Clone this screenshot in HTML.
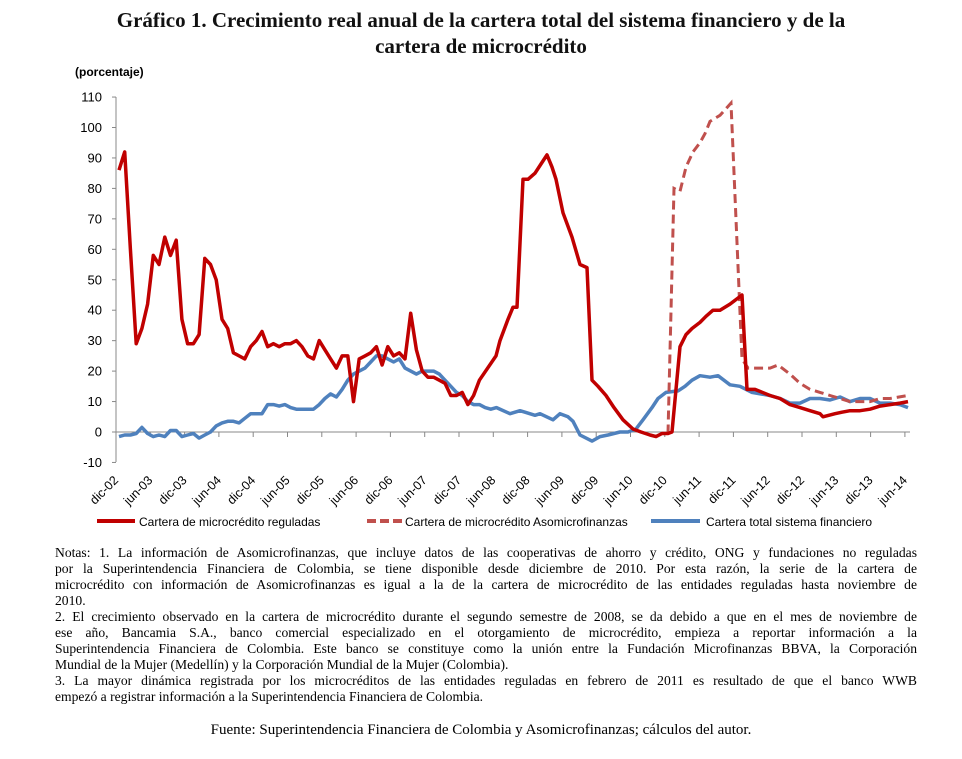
<!DOCTYPE html>
<html><head><meta charset="utf-8">
<style>
body{margin:0;background:#fff;width:962px;height:759px;overflow:hidden;position:relative;font-family:"Liberation Serif",serif}
.t{position:absolute;left:0;width:962px;text-align:center;font-weight:bold;font-size:21px;color:#111}
.n{position:absolute;left:55px;width:862px;font-size:13.6px;line-height:16px;color:#000;white-space:nowrap}
.j{text-align:justify;text-align-last:justify;white-space:normal}
svg text{font-family:"Liberation Sans",sans-serif;fill:#000}
</style></head><body>
<div class="t" style="top:8px">Gráfico 1. Crecimiento real anual de la cartera total del sistema financiero y de la</div>
<div class="t" style="top:34px">cartera de microcrédito</div>
<svg id="s" width="962" height="540" style="position:absolute;left:0;top:0"></svg>
<div class="n j" style="top:545px">Notas: 1. La información de Asomicrofinanzas, que incluye datos de las cooperativas de ahorro y crédito, ONG y fundaciones no reguladas</div>
<div class="n j" style="top:561px">por la Superintendencia Financiera de Colombia, se tiene disponible desde diciembre de 2010. Por esta razón, la serie de la cartera de</div>
<div class="n j" style="top:577px">microcrédito con información de Asomicrofinanzas es igual a la de la cartera de microcrédito de las entidades reguladas hasta noviembre de</div>
<div class="n" style="top:593px">2010.</div>
<div class="n j" style="top:609px">2. El crecimiento observado en la cartera de microcrédito durante el segundo semestre de 2008, se da debido a que en el mes de noviembre de</div>
<div class="n j" style="top:625px">ese año, Bancamia S.A., banco comercial especializado en el otorgamiento de microcrédito, empieza a reportar información a la</div>
<div class="n j" style="top:641px">Superintendencia Financiera de Colombia. Este banco se constituye como la unión entre la Fundación Microfinanzas BBVA, la Corporación</div>
<div class="n" style="top:657px">Mundial de la Mujer (Medellín) y la Corporación Mundial de la Mujer (Colombia).</div>
<div class="n j" style="top:673px">3. La mayor dinámica registrada por los microcréditos de las entidades reguladas en febrero de 2011 es resultado de que el banco WWB</div>
<div class="n" style="top:689px">empezó a registrar información a la Superintendencia Financiera de Colombia.</div>
<div class="n" style="left:0;width:962px;text-align:center;font-size:15px;top:722px">Fuente: Superintendencia Financiera de Colombia y Asomicrofinanzas; cálculos del autor.</div>
<script>
var s=document.getElementById('s'),h='';
function Y(v){return 432-v*3.045}
function X(m){return 119+5.72*m}
h+='<text x="75" y="76" font-size="12" font-weight="bold">(porcentaje)</text>';
h+='<line x1="116" y1="97" x2="116" y2="462" stroke="#888"/>';
for(var v=-10;v<=110;v+=10){var y=Y(v);h+='<line x1="112" y1="'+y+'" x2="116" y2="'+y+'" stroke="#888"/><text x="102" y="'+(y+4.5)+'" font-size="13" text-anchor="end">'+v+'</text>';}
h+='<line x1="116" y1="432" x2="910" y2="432" stroke="#888"/>';
for(var i=0;i<=23;i++){var x=116+i*34.3;h+='<line x1="'+x+'" y1="432" x2="'+x+'" y2="437" stroke="#888"/>';
var yr=2+Math.floor((i+1)/2);var t=(i%2==0?'dic-':'jun-')+(yr<10?'0':'')+yr;
h+='<text font-size="12.5" text-anchor="end" transform="translate('+(x+3)+',481) rotate(-45)">'+t+'</text>';}
var r=[86,92,60,29,34,42,58,55,64,58,63,37,29,29,32,57,55,50,37,34,26,25,24,28,30,33,28,29,28,29,29,30,28,25,24,30,27,24,21,25,25,10,24,25,26,28,22,28,25,26,24,39,27,20,18,18,17,16,12,12,13,9,12,17];
var pr=r.map(function(v,i){return [X(i),v]});
var rl=[[496,25],[500,30],[508,37],[513,41],[517,41],[523,83],[528,83],[535,85],[541,88],[547,91],[552,87],[556,83],[563,72],[572,64],[580,55],[587,54],[592,17],[598,15],[606,12],[614,8],[623,4],[633,1],[641,0],[650,-1],[656,-1.5],[662,-0.5],[668,-0.5],[672,0]];
pr=pr.concat(rl);
var regTail=[[680,28],[686,32],[692,34],[700,36],[706,38],[713,40],[720,40],[730,42],[742,45],[747,14],[755,14],[770,12],[780,11],[790,9],[800,8],[810,7],[820,6],[823,5],[835,6],[842,6.5],[850,7],[860,7],[870,7.5],[880,8.5],[890,9],[900,9.5],[908,10]];
var dTail=[[668,-0.5],[674,80],[680,79],[686,87],[693,92],[700,95],[705,98],[710,102],[720,104],[731,108],[742,24],[748,21],[760,21],[770,21],[778,22],[790,19],[800,16],[810,14],[820,13],[830,12],[840,11],[850,10],[860,10],[870,10],[880,11],[890,11],[908,12]];
var b=[-1.5,-1,-1,-0.5,1.5,-0.5,-1.5,-1,-1.5,0.5,0.5,-1.5,-1,-0.5,-2,-1,0,2,3,3.5,3.5,3,4.5,6,6,6,9,9,8.5,9,8,7.5,7.5,7.5,7.5,9,11,12.5,11.5,14,17,19,20,21,23,25,25,24,23,24,21,20,19,20,20,20,19,17,15,13,12,10,9,9,8,7.5,8];
var pb=b.map(function(v,i){return [X(i),v]}).concat([[510,6],[520,7],[525,6.5],[535,5.5],[540,6],[553,4],[560,6],[568,5],[573,3.5],[580,-1],[592,-3],[600,-1.5],[608,-1],[620,0],[628,0],[636,1],[643,4],[652,8],[658,11],[666,13],[678,13.5],[685,15],[692,17],[700,18.5],[710,18],[718,18.5],[730,15.5],[740,15],[752,13],[770,12],[780,11],[790,9.5],[800,9.5],[810,11],[820,11],[830,10.5],[840,11.5],[850,10],[860,11],[870,11],[880,9.5],[890,9.5],[900,9],[908,8]]);
function P(a){return a.map(function(p){return p[0].toFixed(1)+','+Y(p[1]).toFixed(1)}).join(' ')}
h+='<polyline points="'+P(pb)+'" fill="none" stroke="#4f81bd" stroke-width="3.5" stroke-linejoin="round"/>';
h+='<polyline points="'+P(dTail)+'" fill="none" stroke="#c0504d" stroke-width="3" stroke-dasharray="9,5"/>';
h+='<polyline points="'+P(pr.concat(regTail))+'" fill="none" stroke="#c00000" stroke-width="3.5" stroke-linejoin="round"/>';
h+='<line x1="97" y1="521" x2="135" y2="521" stroke="#c00000" stroke-width="4"/><text x="139" y="526" font-size="12">Cartera de microcrédito reguladas</text>';
h+='<line x1="367" y1="521" x2="403" y2="521" stroke="#c0504d" stroke-width="4" stroke-dasharray="9,4"/><text x="405" y="526" font-size="12">Cartera de microcrédito Asomicrofinanzas</text>';
h+='<line x1="651" y1="521" x2="700" y2="521" stroke="#4f81bd" stroke-width="4"/><text x="706" y="526" font-size="12">Cartera total sistema financiero</text>';
s.innerHTML=h;
</script>
</body></html>
